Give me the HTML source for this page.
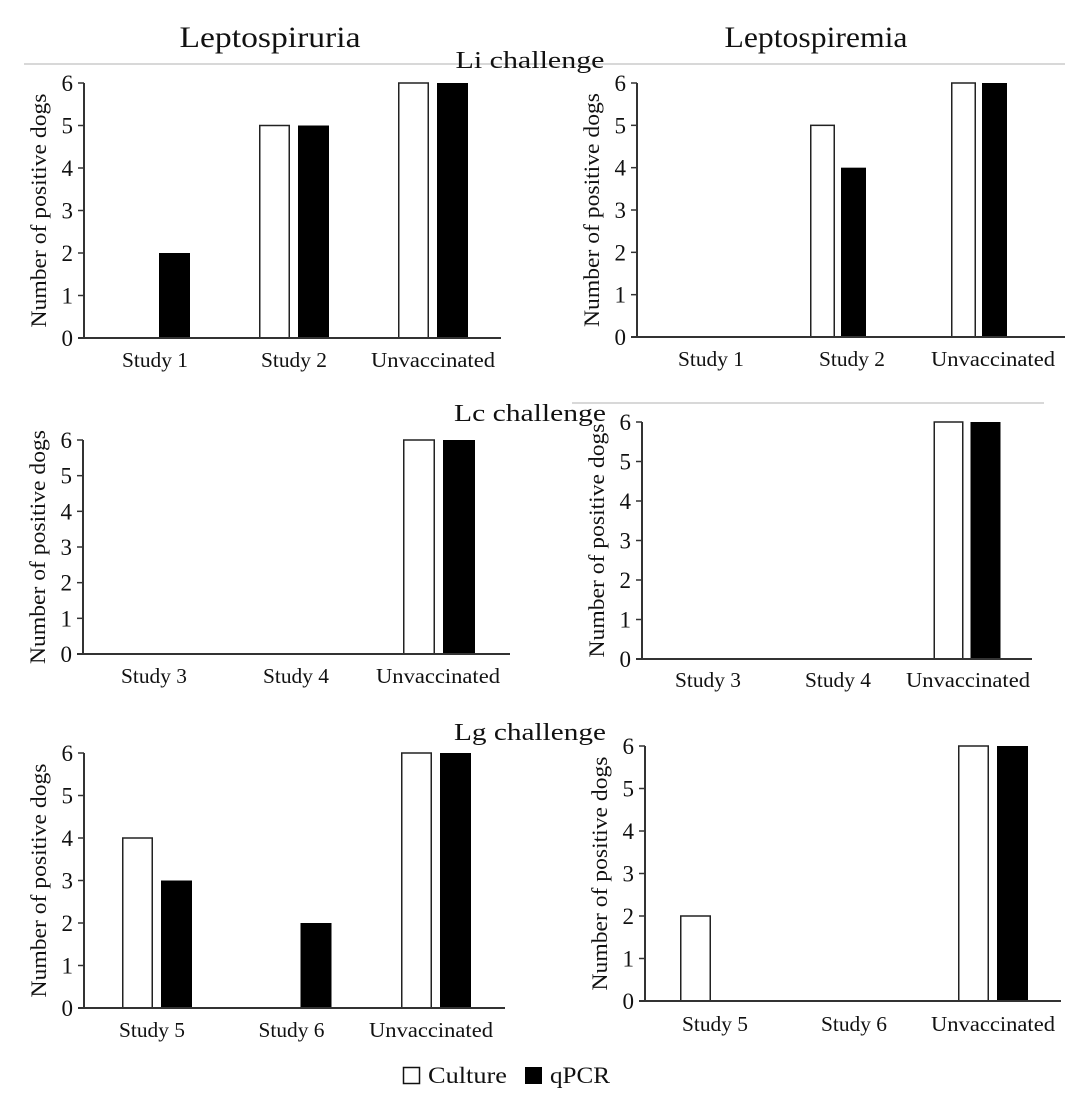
<!DOCTYPE html>
<html><head><meta charset="utf-8"><style>
html,body{margin:0;padding:0;background:#fff;}
svg{display:block;font-family:"Liberation Serif",serif;}
</style></head><body>
<svg id="fig" width="1092" height="1096" viewBox="0 0 1092 1096" xmlns="http://www.w3.org/2000/svg">
<rect width="1092" height="1096" fill="#fff"/>
<text x="270" y="47" font-size="30" text-anchor="middle" textLength="181" lengthAdjust="spacingAndGlyphs" fill="#111">Leptospiruria</text>
<text x="816" y="47" font-size="30" text-anchor="middle" textLength="183" lengthAdjust="spacingAndGlyphs" fill="#111">Leptospiremia</text>
<line x1="24" y1="64" x2="1065" y2="64" stroke="#ccc" stroke-width="1.5"/>
<text x="530" y="68" font-size="24" text-anchor="middle" textLength="149" lengthAdjust="spacingAndGlyphs" fill="#111">Li challenge</text>
<line x1="572" y1="403" x2="1044" y2="403" stroke="#ccc" stroke-width="1.5"/>
<text x="530" y="421" font-size="24" text-anchor="middle" textLength="152" lengthAdjust="spacingAndGlyphs" fill="#111">Lc challenge</text>
<text x="530" y="740" font-size="24" text-anchor="middle" textLength="152" lengthAdjust="spacingAndGlyphs" fill="#111">Lg challenge</text>
<g>
<rect x="403.5" y="1067.5" width="16" height="16" fill="#fff" stroke="#111" stroke-width="1.5"/>
<text x="428" y="1083" font-size="23" textLength="79" lengthAdjust="spacingAndGlyphs" fill="#111">Culture</text>
<rect x="525" y="1067" width="17" height="17" fill="#000"/>
<text x="550" y="1083" font-size="23" textLength="60" lengthAdjust="spacingAndGlyphs" fill="#111">qPCR</text>
</g>
</svg>
<script>
// Data arrays
const cats1 = ["Study 1","Study 2","Unvaccinated"];
const cats2 = ["Study 3","Study 4","Unvaccinated"];
const cats3 = ["Study 5","Study 6","Unvaccinated"];
const yTicks = [0,1,2,3,4,5,6];
const uriCultureLi = [0,5,6];
const uriQpcrLi = [2,5,6];
const bloodCultureLi = [0,5,6];
const bloodQpcrLi = [0,4,6];
const uriCultureLc = [0,0,6];
const uriQpcrLc = [0,0,6];
const bloodCultureLc = [0,0,6];
const bloodQpcrLc = [0,0,6];
const uriCultureLg = [4,0,6];
const uriQpcrLg = [3,2,6];
const bloodCultureLg = [2,0,6];
const bloodQpcrLg = [0,0,6];

const NS = "http://www.w3.org/2000/svg";
const svg = document.getElementById("fig");
function mk(tag, attrs, parent){
  const e = document.createElementNS(NS, tag);
  for (const k in attrs) e.setAttribute(k, attrs[k]);
  (parent||svg).appendChild(e);
  return e;
}
// layout (pixel geometry) kept separate from data
const layouts = [
  {id:"li-urine", cats:cats1, c:uriCultureLi, q:uriQpcrLi, x0:84, x1:501, y0:338, y6:83, first:155, step:139, bw:31, gap:8, ly:367},
  {id:"li-blood", cats:cats1, c:bloodCultureLi, q:bloodQpcrLi, x0:637, x1:1065, y0:337, y6:83, first:697, step:141, bw:25, gap:6, ly:366, lfirst:711},
  {id:"lc-urine", cats:cats2, c:uriCultureLc, q:uriQpcrLc, x0:83, x1:510, y0:654, y6:440, first:155, step:142, bw:32, gap:8, ly:683, lfirst:154},
  {id:"lc-blood", cats:cats2, c:bloodCultureLc, q:bloodQpcrLc, x0:642, x1:1032, y0:659, y6:422, first:707, step:130, bw:30, gap:7, ly:687, lfirst:708},
  {id:"lg-urine", cats:cats3, c:uriCultureLg, q:uriQpcrLg, x0:84, x1:505, y0:1008, y6:753, first:157, step:139.5, bw:31, gap:8, ly:1037, lfirst:152},
  {id:"lg-blood", cats:cats3, c:bloodCultureLg, q:bloodQpcrLg, x0:645, x1:1061, y0:1001, y6:746, first:715, step:139, bw:31, gap:8, ly:1031, lfirst:715}
];
layouts.forEach(p=>{
  const g = mk("g", {});
  
  
  const yS = v => p.y0 + (p.y6 - p.y0) * v / 6;
  const xS = i => p.first + p.step * i;
  const lx = i => (p.lfirst !== undefined ? p.lfirst : p.first) + p.step * i;
  p.cats.forEach((cat,i)=>{
    const cx = xS(i);
    if (p.c[i] > 0){
      const r = mk("rect", {x: cx - p.gap/2 - p.bw + 0.75, y: yS(p.c[i]), width: p.bw - 1.5, height: yS(0) - yS(p.c[i]), fill:"#fff", stroke:"#222", "stroke-width":1.5}, g);
      
      
    }
    if (p.q[i] > 0){
      const r = mk("rect", {x: cx + p.gap/2, y: yS(p.q[i]), width: p.bw, height: yS(0) - yS(p.q[i]), fill:"#000"}, g);
      
      
    }
    const tl = cat.length > 8 ? 124 : 66;
    const t = mk("text", {x: lx(i), y: p.ly, "font-size":21, "text-anchor":"middle", textLength: tl, lengthAdjust:"spacingAndGlyphs", fill:"#111"}, g);
    
    
    t.textContent = cat;
  });
  const ya = mk("line", {x1:p.x0, y1:p.y6, x2:p.x0, y2:p.y0, stroke:"#333", "stroke-width":2}, g);
  
  
  const xa = mk("line", {x1:p.x0-6, y1:p.y0, x2:p.x1, y2:p.y0, stroke:"#333", "stroke-width":2}, g);
  
  
  yTicks.forEach(v=>{
    const tk = mk("line", {x1:p.x0-6, y1:yS(v), x2:p.x0, y2:yS(v), stroke:"#333", "stroke-width":1.5}, g);
    
    
    const t = mk("text", {x:p.x0-11, y:yS(v)+8, "font-size":23, "text-anchor":"end", fill:"#111"}, g);
    
    
    t.textContent = v;
  });
  const ylen = 234;
  const yt = mk("text", {x:0, y:0, "font-size":22, "text-anchor":"middle", textLength: ylen, lengthAdjust:"spacingAndGlyphs", fill:"#111", transform:"translate(" + (p.x0-38) + "," + ((p.y0+p.y6)/2) + ") rotate(-90)"}, g);
  
  
  yt.textContent = "Number of positive dogs";
});
</script>
</body></html>
